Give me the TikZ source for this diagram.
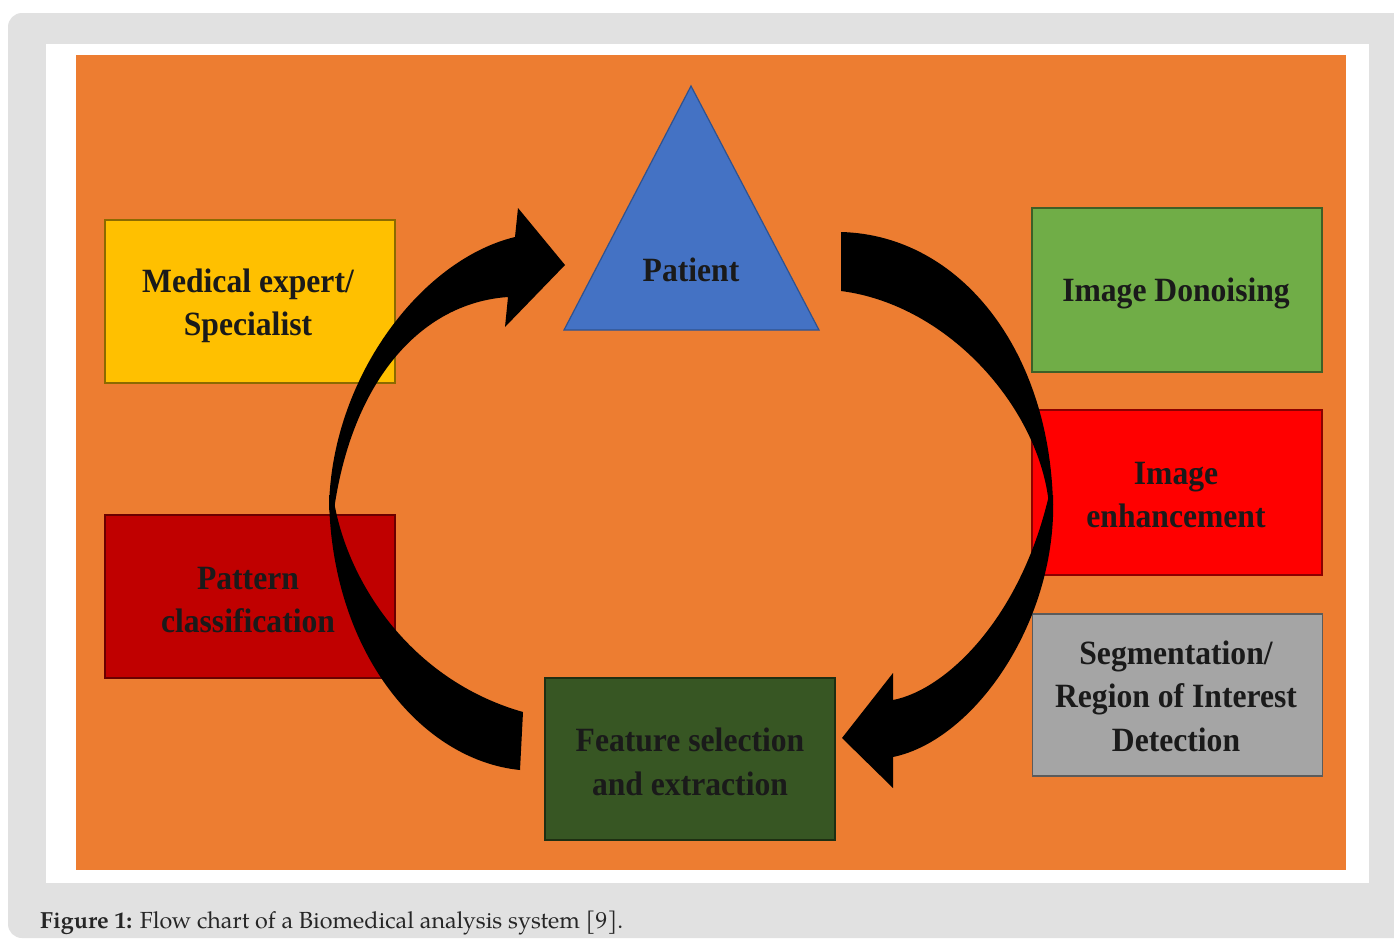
\documentclass[tikz,border=0pt]{standalone}
\usepackage{fontspec}
\setmainfont{Liberation Serif}
\newfontfamily\boxfont[FakeStretch=0.93]{Liberation Serif}
\newfontfamily\capfont{texgyrepagella}[Extension=.otf,UprightFont=*-regular,BoldFont=*-bold]
\definecolor{bggrey}{HTML}{E1E1E1}
\definecolor{corange}{HTML}{ED7D31}
\definecolor{cyellow}{HTML}{FFC000}
\definecolor{cgreen}{HTML}{70AD47}
\definecolor{cred}{HTML}{FF0000}
\definecolor{cdarkred}{HTML}{C00000}
\definecolor{cgrey}{HTML}{A5A5A5}
\definecolor{cdarkgreen}{HTML}{375623}
\definecolor{cblue}{HTML}{4472C4}
\definecolor{cblueline}{HTML}{2F528F}
\definecolor{textc}{HTML}{1A1A1A}
\begin{document}
\begin{tikzpicture}[x=1bp,y=-1bp,
  box/.style={draw=#1!55!black, fill=#1, line width=1.3bp, minimum width=290bp,
    minimum height=163bp, inner sep=0pt},
  boxtext/.style={inner sep=0pt, align=center, text=textc,
    font=\boxfont\bfseries\fontsize{34bp}{43.5bp}\selectfont},
  blockarrow/.style={fill=black}]
\useasboundingbox (0,0) rectangle (1394,941);
\fill[white] (0,0) rectangle (1394,941);
\fill[bggrey, rounded corners=14bp] (8,13) rectangle (1430,938);
\fill[white] (46,44) rectangle (1369,883);
\fill[corange] (76,55) rectangle (1346,870);

% boxes
\node[box=cyellow, minimum height=163bp] (med) at (250,301.5) {};
\node[boxtext] (medt) at (248,306) {Medical expert/\\Specialist};
\node[box=cdarkred, minimum height=163bp] (pat) at (250,596.5) {};
\node[boxtext] (patt) at (248,600) {Pattern\\classification};
\node[box=cgreen, minimum height=164bp] (den) at (1177,290) {};
\node[boxtext] (dent) at (1176,293) {Image Donoising};
\node[box=cred, minimum height=165bp] (enh) at (1177,492.5) {};
\node[boxtext] (enht) at (1176,495) {Image\\enhancement};
\node[box=cgrey, minimum height=162bp] (seg) at (1177.5,695) {};
\node[boxtext] (segt) at (1176,696) {Segmentation/\\Region of Interest\\Detection};
\node[box=cdarkgreen, minimum height=162bp] (feat) at (690,759) {};
\node[boxtext] (featt) at (690,762) {Feature selection\\and extraction};

% patient triangle
\filldraw[fill=cblue, draw=cblueline, line width=1.2bp] (691,86) -- (819,330) -- (564,330) -- cycle;
\node[boxtext] (patient) at (691,270) {Patient};

% left curved arrow (lower half, then upper half with head)
\fill[blockarrow] (520,770) .. controls (420,760) and (330,650) .. (329,495)
  -- (333,495) .. controls (345,580) and (410,680) .. (523,712) -- cycle;
\fill[blockarrow] (329,510) .. controls (330,380) and (420,260) .. (515,237)
  -- (518,208) -- (565,265) -- (505,327) -- (508,297)
  .. controls (420,303) and (352,382) .. (334,510) -- cycle;

% right curved arrow
\fill[blockarrow] (841,232) .. controls (960,235) and (1050,350) .. (1053,505)
  -- (1049,505) .. controls (1040,410) and (950,305) .. (841,291) -- cycle;
\fill[blockarrow] (1053,495) .. controls (1058,620) and (975,740) .. (893,757)
  -- (893,788) -- (842,738) -- (893,673) -- (893,700)
  .. controls (945,690) and (1020,620) .. (1049,495) -- cycle;

% caption
\node[anchor=base west, inner sep=0pt, text=black!85,
  font=\capfont\fontsize{23.3bp}{27bp}\selectfont] (caption) at (40,928)
  {\textbf{Figure 1:} Flow chart of a Biomedical analysis system [9].};
\end{tikzpicture}
\end{document}
